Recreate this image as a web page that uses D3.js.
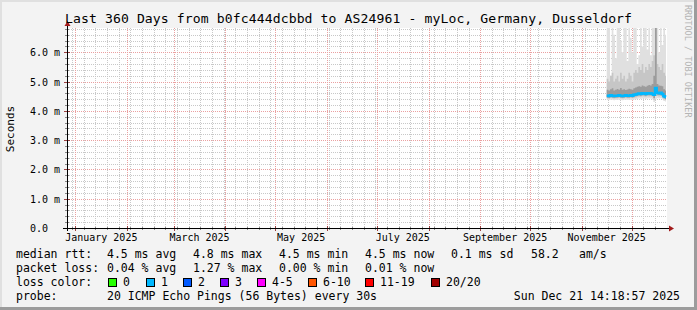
<!DOCTYPE html>
<html><head><meta charset="utf-8">
<script src="https://cdn.jsdelivr.net/npm/d3@7"></script>
<style>
html,body{margin:0;padding:0;background:#f3f3f3;}
svg{display:block;}
text{font-family:"DejaVu Sans Mono",monospace;fill:#000;}
</style>
</head><body>
<svg id="c" width="697" height="310"></svg>
<script>
// ---------------- data ----------------
const title = "Last 360 Days from b0fc444dcbbd to AS24961 - myLoc, Germany, Dusseldorf";
const rangeStart = "2024-12-26T14:18:57Z";
const rangeEnd = "2025-12-21T14:18:57Z";
const dates = ["2025-11-16","2025-11-17","2025-11-18","2025-11-19","2025-11-20","2025-11-21","2025-11-22","2025-11-23","2025-11-24","2025-11-25","2025-11-26","2025-11-27","2025-11-28","2025-11-29","2025-11-30","2025-12-01","2025-12-02","2025-12-03","2025-12-04","2025-12-05","2025-12-06","2025-12-07","2025-12-08","2025-12-09","2025-12-10","2025-12-11","2025-12-12","2025-12-13","2025-12-14","2025-12-15","2025-12-16","2025-12-17","2025-12-18","2025-12-19","2025-12-20","2025-12-21"];
const median   = [4.52,4.51,4.53,4.52,4.51,4.52,4.52,4.53,4.52,4.51,4.52,4.53,4.52,4.52,4.53,4.52,4.55,4.56,4.58,4.59,4.58,4.60,4.59,4.58,4.60,4.59,4.60,4.58,4.55,4.78,4.62,4.60,4.62,4.58,4.50,4.47];
const smokeMin = [4.38,4.37,4.38,4.38,4.36,4.37,4.38,4.38,4.37,4.36,4.38,4.38,4.37,4.38,4.38,4.37,4.39,4.40,4.41,4.42,4.41,4.42,4.42,4.41,4.42,4.42,4.42,4.40,4.30,4.40,4.43,4.42,4.43,4.40,4.34,4.32];
const q10      = [4.43,4.42,4.44,4.43,4.42,4.43,4.43,4.44,4.43,4.42,4.43,4.44,4.43,4.43,4.44,4.43,4.45,4.46,4.48,4.49,4.48,4.50,4.49,4.48,4.50,4.49,4.50,4.48,4.38,4.52,4.51,4.49,4.51,4.47,4.40,4.37];
const q25      = [4.46,4.45,4.47,4.46,4.45,4.46,4.46,4.47,4.46,4.45,4.46,4.47,4.46,4.46,4.47,4.46,4.49,4.50,4.52,4.53,4.52,4.54,4.53,4.52,4.54,4.53,4.54,4.52,4.44,4.62,4.56,4.54,4.56,4.52,4.44,4.41];
const q75      = [4.72,4.70,4.74,4.77,4.70,4.72,4.75,4.72,4.78,4.72,4.74,4.71,4.73,4.76,4.74,4.72,4.77,4.80,4.82,4.84,4.82,4.87,4.84,4.82,4.86,4.88,4.87,4.92,5.20,6.90,4.92,4.87,4.86,4.84,4.74,4.70];
const q90      = [5.10,5.00,5.20,5.30,5.00,5.10,5.20,5.00,5.30,5.10,5.20,5.00,5.10,5.30,5.20,5.00,5.30,5.40,5.30,5.50,5.40,5.60,5.30,5.50,5.40,5.60,5.50,5.70,5.90,6.90,5.60,5.50,5.40,5.60,5.30,5.20];
const smokeMax = [6.90,6.90,5.20,6.90,6.60,5.80,6.90,6.90,6.40,6.00,6.90,6.90,5.70,6.90,6.50,6.00,6.90,6.90,5.60,5.90,6.90,6.20,6.90,6.90,6.10,6.90,5.90,6.90,6.90,6.90,6.90,6.00,6.90,6.25,6.90,6.60];

const yTickValues = [0,1,2,3,4,5,6];
const yTickLabels = ["0.0","1.0 m","2.0 m","3.0 m","4.0 m","5.0 m","6.0 m"];
const xLabelMonths = ["2025-01-01","2025-03-01","2025-05-01","2025-07-01","2025-09-01","2025-11-01"];
const xLabelTexts = ["January 2025","March 2025","May 2025","July 2025","September 2025","November 2025"];

const legendRows = [
  {label:"median rtt:", items:[["4.5 ms avg",107],["4.8 ms max",193],["4.5 ms min",279],["4.5 ms now",365],["0.1 ms sd",451],["58.2",531],["am/s",579]]},
  {label:"packet loss:", items:[["0.04 % avg",107],["1.27 % max",193],["0.00 % min",279],["0.01 % now",365]]}
];
const lossLabels = ["0","1","2","3","4-5","6-10","11-19","20/20"];
const lossColors = ["#26ff00","#00b8ff","#0059ff","#7e00ff","#ff00ff","#ff5500","#ff0000","#a10000"];
const lossBoxX   = [108,146,183,220,257,308,365,431];
const probeText = "20 ICMP Echo Pings (56 Bytes) every 30s";
const stampText = "Sun Dec 21 14:18:57 2025";

// ---------------- chart ----------------
const svg = d3.select("#c");
const W = 697, H = 310;
const X0 = 66.5, X1 = 666, YB = 228, YT = 28;
const x = d3.scaleUtc().domain([new Date(rangeStart), new Date(rangeEnd)]).range([X0, X1]);
const y = d3.scaleLinear().domain([0, 200/29.28]).range([YB, YT]);

// frame
svg.append("rect").attr("width",W).attr("height",H).attr("fill","#f3f3f3");
svg.append("rect").attr("x",0).attr("y",0).attr("width",W).attr("height",2).attr("fill","#e0e0e0");
svg.append("rect").attr("x",0).attr("y",0).attr("width",2).attr("height",H).attr("fill","#e0e0e0");
svg.append("rect").attr("x",W-3).attr("y",0).attr("width",3).attr("height",H).attr("fill","#9c9c9c");
svg.append("rect").attr("x",0).attr("y",H-3).attr("width",W).attr("height",3).attr("fill","#9c9c9c");

// plot area
svg.append("rect").attr("x",67).attr("y",YT).attr("width",X1+1-67).attr("height",YB-YT).attr("fill","#ffffff");

svg.append("defs").append("clipPath").attr("id","clip")
  .append("rect").attr("x",67).attr("y",YT).attr("width",X1+1-67).attr("height",YB-YT);

const grid = svg.append("g");
const minorCol = "#c8c8c8", majorCol = "#eaa0a0";
// horizontal minor
d3.range(1, 35).forEach(i => {
  const v = i*0.2;
  if (Math.abs(v - Math.round(v)) < 1e-6) return;
  const yy = Math.round(y(v)) + 0.5;
  if (yy < YT) return;
  grid.append("line").attr("x1",67).attr("x2",X1+1).attr("y1",yy).attr("y2",yy)
    .attr("stroke",minorCol).attr("stroke-dasharray","1,1");
});
// vertical minor (weekly)
const weeks = d3.utcMonday.range(x.domain()[0], x.domain()[1]);
weeks.forEach(d => {
  const xx = Math.round(x(d)) + 0.5;
  grid.append("line").attr("x1",xx).attr("x2",xx).attr("y1",YT).attr("y2",YB)
    .attr("stroke",minorCol).attr("stroke-dasharray","1,1");
});
// horizontal major
yTickValues.slice(1).forEach(v => {
  const yy = Math.round(y(v)) + 0.5;
  grid.append("line").attr("x1",67).attr("x2",X1+1).attr("y1",yy).attr("y2",yy)
    .attr("stroke",majorCol).attr("stroke-dasharray","1,1");
});
// vertical major (monthly)
const months = d3.utcMonth.range(x.domain()[0], x.domain()[1]);
months.forEach(d => {
  const xx = Math.round(x(d)) + 0.5;
  grid.append("line").attr("x1",xx).attr("x2",xx).attr("y1",YT).attr("y2",YB)
    .attr("stroke",majorCol).attr("stroke-dasharray","1,1");
});

// smoke
const data = dates.map((d,i) => ({t:new Date(d+"T00:00:00Z"), med:median[i], mn:smokeMin[i], mx:smokeMax[i], q10:q10[i], q25:q25[i], q75:q75[i], q90:q90[i]}));
const last = data[data.length-1];
const dataExt = data.concat([Object.assign({}, last, {t:new Date(rangeEnd)})]);
const plot = svg.append("g").attr("clip-path","url(#clip)");
const band = (lo, hi, col) => {
  plot.append("path").datum(dataExt)
    .attr("d", d3.area().curve(d3.curveStepAfter).x(d=>x(d.t)).y0(d=>y(d[lo])).y1(d=>y(d[hi])))
    .attr("fill", col);
};
band("mn","mx","#e0e0e0");
band("q10","q90","#c6c6c6");
band("q25","q75","#9c9c9c");
plot.append("path").datum(dataExt)
  .attr("d", d3.line().curve(d3.curveStepAfter).x(d=>x(d.t)).y(d=>y(d.med)))
  .attr("fill","none").attr("stroke","#00b8ff").attr("stroke-width",2.5);

// axis ticks
const axes = svg.append("g");
d3.range(1, 35).forEach(i => {
  const v = i*0.2;
  const yy = Math.round(y(v)) + 0.5;
  if (yy < YT) return;
  const major = Math.abs(v - Math.round(v)) < 1e-6;
  axes.append("line").attr("x1", major?64:65).attr("x2", major?70:69).attr("y1",yy).attr("y2",yy)
    .attr("stroke", major ? "#9a4040" : "#888").attr("stroke-width",1);
});
weeks.forEach(d => {
  const xx = Math.round(x(d)) + 0.5;
  axes.append("line").attr("x1",xx).attr("x2",xx).attr("y1",YB-1).attr("y2",YB+2).attr("stroke","#888");
});
months.forEach(d => {
  const xx = Math.round(x(d)) + 0.5;
  axes.append("line").attr("x1",xx).attr("x2",xx).attr("y1",YB-2).attr("y2",YB+3).attr("stroke","#9a4040");
});
// axis lines
axes.append("line").attr("x1",63).attr("x2",670).attr("y1",YB+0.5).attr("y2",YB+0.5).attr("stroke","#000");
axes.append("line").attr("x1",67.5).attr("x2",67.5).attr("y1",25).attr("y2",YB+3).attr("stroke","#000");
axes.append("path").attr("d","M669,225.5 L674,228.5 L669,231.5 Z").attr("fill","#a11a1a");
axes.append("path").attr("d","M64.5,26 L67.5,21 L70.5,26 Z").attr("fill","#a11a1a");

// y labels
yTickValues.forEach((v,i) => {
  svg.append("text").attr("x",30).attr("y",y(v)+4).attr("font-size","10px").text(yTickLabels[i]);
});
// x labels centered mid-month
xLabelMonths.forEach((m,i) => {
  const a = new Date(m+"T00:00:00Z");
  const b = d3.utcMonth.offset(a,1);
  const cx = (x(a)+x(b))/2;
  svg.append("text").attr("x",cx).attr("y",241).attr("font-size","10px").attr("text-anchor","middle").text(xLabelTexts[i]);
});

// title
svg.append("text").attr("x",65).attr("y",23).attr("font-size","13.1px").attr("textLength",567).attr("lengthAdjust","spacing").text(title);
// vertical labels
svg.append("text").attr("transform","translate(14,129) rotate(-90)").attr("font-size","11px").attr("text-anchor","middle").text("Seconds");
svg.append("text").attr("transform","translate(685,5) rotate(90)").attr("font-size","8.5px").style("fill","#b4b4b4").text("RRDTOOL / TOBI OETIKER");

// legend
const lf = "11.5px";
const rowY = [258, 272, 286, 300];
legendRows.forEach((r,ri) => {
  svg.append("text").attr("x",16).attr("y",rowY[ri]).attr("font-size",lf).text(r.label);
  r.items.forEach(([t,xx]) => svg.append("text").attr("x",xx).attr("y",rowY[ri]).attr("font-size",lf).text(t));
});
svg.append("text").attr("x",16).attr("y",rowY[2]).attr("font-size",lf).text("loss color:");
lossLabels.forEach((l,i) => {
  svg.append("rect").attr("x",lossBoxX[i]+0.5).attr("y",278.5).attr("width",8).attr("height",8)
    .attr("fill",lossColors[i]).attr("stroke","#000").attr("stroke-width",1);
  svg.append("text").attr("x",lossBoxX[i]+15).attr("y",rowY[2]).attr("font-size",lf).text(l);
});
svg.append("text").attr("x",16).attr("y",rowY[3]).attr("font-size",lf).text("probe:");
svg.append("text").attr("x",107).attr("y",rowY[3]).attr("font-size",lf).text(probeText);
svg.append("text").attr("x",680).attr("y",rowY[3]).attr("font-size",lf).attr("text-anchor","end").text(stampText);
</script>
</body></html>
